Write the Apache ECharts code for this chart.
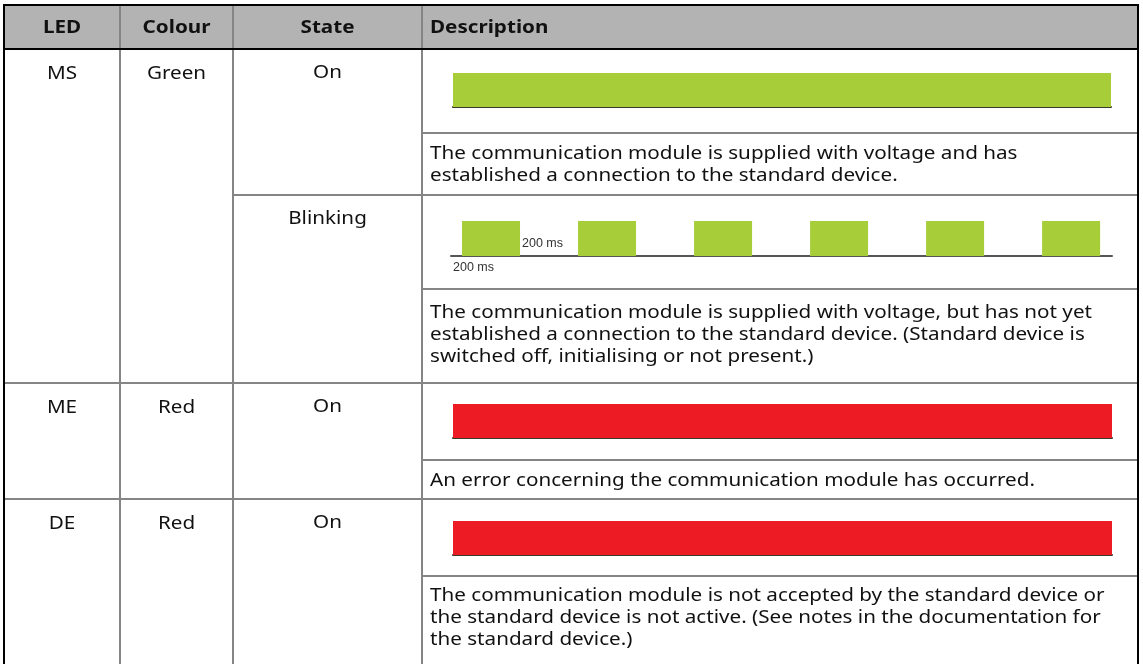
<!DOCTYPE html>
<html><head><meta charset="utf-8">
<script src="https://cdn.jsdelivr.net/npm/echarts@6/dist/echarts.min.js"></script>
<style>html,body{margin:0;padding:0;background:#fff}#c{width:1143px;height:664px}</style>
</head><body><div id="c"></div>
<script>
// ---------------- data ----------------
const headers = ['LED', 'Colour', 'State', 'Description'];
const leds = ['MS', 'ME', 'DE'];
const ledColours = ['Green', 'Red', 'Red'];
const states = ['On', 'Blinking', 'On', 'On'];
const descriptions = [
  'The communication module is supplied with voltage and has\nestablished a connection to the standard device.',
  'The communication module is supplied with voltage, but has not yet\nestablished a connection to the standard device. (Standard device is\nswitched off, initialising or not present.)',
  'An error concerning the communication module has occurred.',
  'The communication module is not accepted by the standard device or\nthe standard device is not active. (See notes in the documentation for\nthe standard device.)'
];
// timing diagrams: [start ms, end ms] of LED "lit" intervals
const onSegments = [[0, 2400]];
const blinkSegments = [[0, 200], [400, 600], [800, 1000], [1200, 1400], [1600, 1800], [2000, 2200]];
const timingLabels = ['200 ms', '200 ms'];
const timingLabelAtMs = [200, 0];

// ---------------- layout ----------------
const SX = 1.18;
const FONT = '"Noto Sans", sans-serif';
const colX = [4, 120, 233, 422, 1138];
const headTop = 5, headBot = 49;
const blocks = [
  {top: 49, split: 133, bot: 195, tdy: 0},
  {top: 195, split: 289, bot: 383, tdy: -2},
  {top: 383, split: 460, bot: 499, tdy: 1},
  {top: 499, split: 576, bot: 664, tdy: -3}
];
const ledBlocks = [[0, 1], [2, 2], [3, 3]];
const GREEN = '#a7ce39', RED = '#ed1c24';
const diag = [
  {top: 73, h: 34, left: 453, right: 1111, seg: onSegments, min: 0, max: 2400, color: GREEN},
  {top: 221, h: 35, left: 451, right: 1112, seg: blinkSegments, min: -38, max: 2241, color: GREEN},
  {top: 404, h: 34, left: 453, right: 1112, seg: onSegments, min: 0, max: 2400, color: RED},
  {top: 521, h: 34, left: 453, right: 1112, seg: onSegments, min: 0, max: 2400, color: RED}
];

const G = [];
const GRAY = '#858585';
function line(x1, y1, x2, y2, c, w) {
  G.push({type: 'line', shape: {x1, y1, x2, y2}, style: {stroke: c, lineWidth: w}, z: 10});
}
function text(t, x, y, align, bold) {
  G.push({type: 'text', x, y, scaleX: SX, z: 11,
    style: {text: t, x: 0, y: 0, font: (bold ? 'bold ' : '') + '17.5px ' + FONT, fill: '#111',
      align, verticalAlign: 'middle', lineHeight: 22}});
}
// header background
G.push({type: 'rect', shape: {x: colX[0], y: headTop, width: colX[4] - colX[0], height: headBot - headTop}, style: {fill: '#b3b3b3'}, z: 1});
// header texts
headers.forEach((h, i) => {
  if (i < 3) text(h, (colX[i] + colX[i + 1]) / 2, (headTop + headBot) / 2 + 1, 'center', true);
  else text(h, colX[3] + 8, (headTop + headBot) / 2 + 1, 'left', true);
});
// vertical separators
for (let i = 1; i < 4; i++) line(colX[i], headTop, colX[i], 664, GRAY, 2);
// block lines
blocks.forEach((b, i) => {
  if (i > 0) {
    const startX = (i === 1) ? colX[2] : colX[0];
    line(startX, b.top, colX[4], b.top, GRAY, 2);
  }
  line(colX[3], b.split, colX[4], b.split, GRAY, 2);
  text(states[i], (colX[2] + colX[3]) / 2, b.top + 24, 'center', false);
  text(descriptions[i], colX[3] + 8, (b.split + b.bot) / 2 + 1 + b.tdy, 'left', false);
});
ledBlocks.forEach((lb, i) => {
  const b = blocks[lb[0]];
  text(leds[i], (colX[0] + colX[1]) / 2, b.top + 25, 'center', false);
  text(ledColours[i], (colX[1] + colX[2]) / 2, b.top + 25, 'center', false);
});
// outer borders
line(colX[0], headTop, colX[0], 664, '#000', 2);
line(colX[4], headTop, colX[4], 664, '#000', 2);
line(colX[0] - 1, headTop, colX[4] + 1, headTop, '#000', 2);
line(colX[0], headBot, colX[4], headBot, '#000', 2);

// ---------------- charts ----------------
const grids = [], xAxes = [], yAxes = [], series = [];
function rectItem(params, api) {
  const s = api.coord([api.value(0), 1]);
  const e = api.coord([api.value(1), 0]);
  return {type: 'rect', shape: {x: s[0], y: s[1], width: e[0] - s[0], height: e[1] - s[1]},
    style: {fill: api.visual('color')}};
}
diag.forEach((d, i) => {
  grids.push({left: d.left, width: d.right - d.left, top: d.top, height: d.h, containLabel: false});
  xAxes.push({type: 'value', gridIndex: i, min: d.min, max: d.max,
    axisLine: {show: true, onZero: false, lineStyle: {color: i === 1 ? '#555' : '#3a3a2a', width: 2}},
    axisTick: {show: false}, axisLabel: {show: false}, splitLine: {show: false}});
  yAxes.push({type: 'value', gridIndex: i, min: 0, max: 1, show: false});
  series.push({type: 'custom', xAxisIndex: i, yAxisIndex: i, renderItem: rectItem,
    itemStyle: {color: d.color}, data: d.seg, z: 2, silent: true});
});
// timing annotation labels on blinking diagram
series.push({type: 'custom', xAxisIndex: 1, yAxisIndex: 1, silent: true, z: 5, clip: false,
  data: timingLabelAtMs.map((t, k) => [t, k]),
  renderItem: function (params, api) {
    const k = api.value(1);
    const p = api.coord([api.value(0), 0]);
    const top = api.coord([api.value(0), 1])[1];
    const above = k === 0;
    return {type: 'text', x: above ? p[0] + 2 : p[0] - 9, y: above ? top + 23 : p[1] + 12,
      style: {text: timingLabels[k], font: '12.5px "Liberation Sans", Arial, sans-serif', fill: '#333',
        align: 'left', verticalAlign: 'middle'}};
  }});

const chart = echarts.init(document.getElementById('c'), null, {renderer: 'canvas'});
chart.setOption({
  animation: false,
  backgroundColor: '#fff',
  grid: grids, xAxis: xAxes, yAxis: yAxes, series,
  graphic: {elements: G}
});
</script>
</body></html>
